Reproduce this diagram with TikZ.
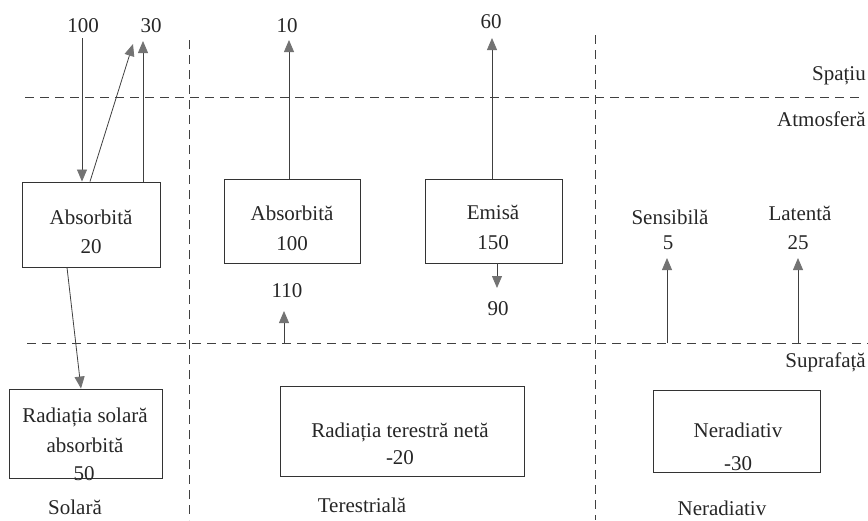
\documentclass[tikz,border=0pt]{standalone}
\usepackage{fontspec}
\setmainfont{Liberation Serif}
\usetikzlibrary{arrows.meta}
\begin{document}
\begin{tikzpicture}[x=1pt,y=-1pt,
  txt/.style={anchor=base,inner sep=0pt,text=black!85,font=\fontsize{21}{29}\selectfont},
  rtxt/.style={txt,anchor=base east},
  boxn/.style={draw=black!80,line width=0.9pt,minimum width=#1,inner sep=0pt},
  sep/.style={draw=black!75,line width=0.8pt,dash pattern=on 9pt off 6pt},
  arr/.style={draw=black!75,line width=0.8pt,-{Triangle[length=12pt,width=10pt,color=black!55]}}]
\useasboundingbox (0,0) rectangle (868,520);
% separators
\coordinate (h1a) at (25,97);  \coordinate (h1b) at (862,97);
\coordinate (h2a) at (27,343); \coordinate (h2b) at (868,343);
\coordinate (v1a) at (189,40); \coordinate (v1b) at (189,520);
\coordinate (v2a) at (595,35); \coordinate (v2b) at (595,520);
\draw[sep] (h1a) -- (h1b);
\draw[sep] (h2a) -- (h2b);
\draw[sep] (v1a) -- (v1b);
\draw[sep] (v2a) -- (v2b);
% boxes
\node[boxn=138pt,minimum height=85pt] (b1) at (91,224.5) {};
\node[boxn=153pt,minimum height=89pt] (b2) at (85.5,433.5) {};
\node[boxn=136pt,minimum height=84pt] (b3) at (292,221) {};
\node[boxn=137pt,minimum height=84pt] (b4) at (493.5,221) {};
\node[boxn=244pt,minimum height=90pt] (b5) at (402,431) {};
\node[boxn=167pt,minimum height=82pt] (b6) at (737,431) {};
% texts
\node[txt] (t100) at (83,32) {100};
\node[txt] (t30) at (151,32) {30};
\node[txt] (t10) at (287,32) {10};
\node[txt] (t60) at (491,28) {60};
\node[rtxt] (lsp) at (866,80) {Spațiu};
\node[rtxt] (lat) at (866,126) {Atmosferă};
\node[rtxt] (lsu) at (866,367) {Suprafață};
\node[txt] (b1a) at (91,224) {Absorbită};
\node[txt] (b1b) at (91,253) {20};
\node[txt] (b3a) at (292,220) {Absorbită};
\node[txt] (b3b) at (292,250) {100};
\node[txt] (b4a) at (493,219) {Emisă};
\node[txt] (b4b) at (493,249) {150};
\node[txt] (t110) at (287,297) {110};
\node[txt] (t90) at (498,315) {90};
\node[txt] (sen) at (670,224) {Sensibilă};
\node[txt] (t5) at (668,249) {5};
\node[txt] (lat2) at (800,220) {Latentă};
\node[txt] (t25) at (798,249) {25};
\node[txt] (b2a) at (85,422) {Radiația solară};
\node[txt] (b2b) at (85,452) {absorbită};
\node[txt] (b2c) at (84,480) {50};
\node[txt] (b5a) at (400,437) {Radiația terestră netă};
\node[txt] (b5b) at (400,464) {-20};
\node[txt] (b6a) at (738,437) {Neradiativ};
\node[txt] (b6b) at (738,470) {-30};
\node[txt] (csol) at (75,514) {Solară};
\node[txt] (cter) at (362,512) {Terestrială};
\node[txt] (cner) at (722,515) {Neradiativ};
% free ends
\coordinate (p1) at (82,38);
\coordinate (p2s) at (90,0); \coordinate (p2e) at (133,44);
\coordinate (p3) at (143,41);
\coordinate (p4s) at (67,0); \coordinate (p4e) at (81,0);
\coordinate (p5) at (289,40);
\coordinate (p6s) at (284,343); \coordinate (p6e) at (284,311);
\coordinate (p7) at (492,38);
\coordinate (p8) at (497,288);
\coordinate (p9s) at (667,343); \coordinate (p9e) at (667,258);
\coordinate (p10s) at (798,343); \coordinate (p10e) at (798,258);
% connectors
\draw[arr] (p1) -- (p1 |- b1.north);
\draw[arr] (p2s |- b1.north) -- (p2e);
\draw[arr] (p3 |- b1.north) -- (p3);
\draw[arr] (p4s |- b1.south) -- (p4e |- b2.north);
\draw[arr] (p5 |- b3.north) -- (p5);
\draw[arr] (p6s) -- (p6e);
\draw[arr] (p7 |- b4.north) -- (p7);
\draw[arr] (p8 |- b4.south) -- (p8);
\draw[arr] (p9s) -- (p9e);
\draw[arr] (p10s) -- (p10e);
\end{tikzpicture}
\end{document}
